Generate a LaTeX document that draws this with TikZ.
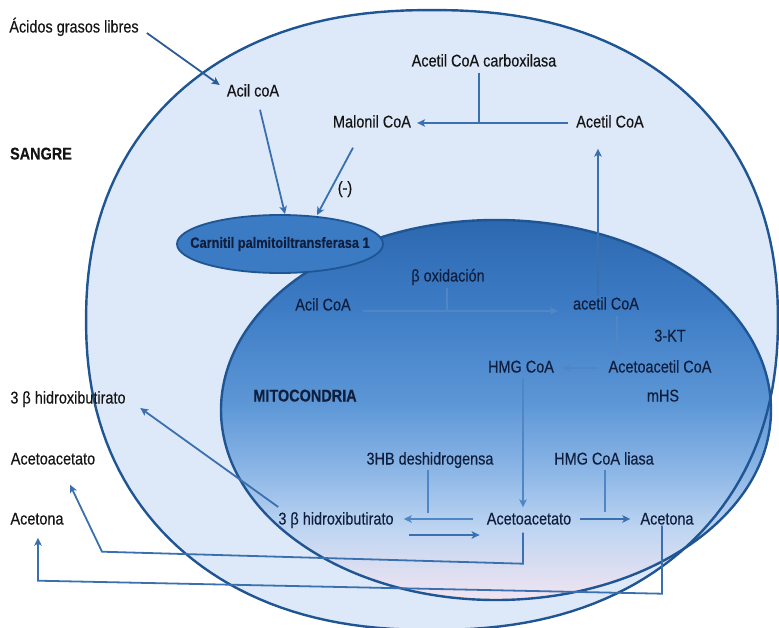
\documentclass[tikz,border=0pt]{standalone}
\usepackage{fontspec}
\setmainfont{Liberation Sans}[FakeStretch=0.85, FakeBold=0.3]
\usetikzlibrary{arrows.meta,calc,shapes.geometric}
\definecolor{cellfill}{HTML}{DDE9F8}
\definecolor{cellline}{HTML}{1F5593}
\definecolor{lineblue}{HTML}{3A70B0}
\definecolor{darkline}{HTML}{2C5C98}
\definecolor{innerline}{HTML}{4F86C6}
\definecolor{navy}{HTML}{0F1E3C}
\definecolor{cptfill}{HTML}{3B7BC4}
\definecolor{mA}{HTML}{F2E4F0}
\definecolor{mB}{HTML}{C0D6F2}
\definecolor{mC}{HTML}{8CB6E6}
\definecolor{mD}{HTML}{5C96D6}
\definecolor{mE}{HTML}{3C7BC4}
\definecolor{mF}{HTML}{2C68B0}
\pgfdeclareverticalshading{mitoshade}{100bp}{color(0bp)=(mA); color(25bp)=(mA); color(34bp)=(mB); color(42bp)=(mC); color(51bp)=(mD); color(64bp)=(mE); color(75bp)=(mF); color(100bp)=(mF)}
\begin{document}
\begin{tikzpicture}[x=1pt,y=-1pt,
  lab/.style={font=\fontsize{17}{19}\selectfont, text=black!92, inner sep=0pt, text height=12pt, text depth=3pt},
  mlab/.style={lab, text=navy},
  blab/.style={lab, font=\fontsize{17}{19}\selectfont\bfseries},
  conn/.style={draw=lineblue, line width=1.8pt, -{Stealth[length=8pt,width=7.5pt,inset=2pt]}},
  iconn/.style={conn, draw=innerline},
  tick/.style={draw=lineblue, line width=1.8pt},
  itick/.style={tick, draw=innerline}]
\useasboundingbox (0,0) rectangle (779,628);
\clip (0,0) rectangle (779,628);

% cell (blood side boundary)
\fill[cellfill] plot[domain=1:359, samples=180, variable=\t]
  ({432+346*cos(\t)/(abs(cos(\t))^0.12)}, {320+310*sin(\t)/(abs(sin(\t))^0.09)}) -- cycle;
% mitochondria
\shade[shading=mitoshade] (496,410) ellipse [x radius=275, y radius=190];
\draw[cellline, line width=2.4pt] (496,410) ellipse [x radius=275, y radius=190];
\draw[cellline, line width=2.4pt] plot[domain=1:359, samples=180, variable=\t]
  ({432+346*cos(\t)/(abs(cos(\t))^0.12)}, {320+310*sin(\t)/(abs(sin(\t))^0.09)}) -- cycle;

% CPT1
\node[ellipse, draw=cellline, fill=cptfill, line width=1.8pt, minimum width=206pt, minimum height=58pt, inner sep=0pt] (cpt) at (280,244) {};
\node[inner sep=0pt, text=navy, font=\fontsize{15}{17}\selectfont\bfseries] (cpttext) at (cpt.center) {Carnitil palmitoiltransferasa 1};

% labels outside mitochondria
\node[lab] (afl) at (74,28) {Ácidos grasos libres};
\node[lab] (acil1) at (253,92) {Acil coA};
\node[lab] (malonil) at (372,123) {Malonil CoA};
\node[lab] (acc) at (484,62) {Acetil CoA carboxilasa};
\node[lab] (acetil1) at (610,123) {Acetil CoA};
\node[blab] (sangre) at (41,155) {SANGRE};
\node[lab] (minus) at (345,189) {(-)};
\node[lab] (hbout) at (68,399) {3 β hidroxibutirato};
\node[lab] (aaout) at (53,460) {Acetoacetato};
\node[lab] (acout) at (37,520) {Acetona};

% labels inside mitochondria
\node[mlab] (box) at (448,277) {β oxidación};
\node[mlab] (acil2) at (323,306) {Acil CoA};
\node[mlab] (acetil2) at (606,305) {acetil CoA};
\node[mlab] (kt) at (670,337) {3-KT};
\node[mlab] (hmg) at (521,368) {HMG CoA};
\node[mlab] (acacoa) at (660,368) {Acetoacetil CoA};
\node[mlab] (mhs) at (663,397) {mHS};
\node[blab, text=navy] (mito) at (305,397) {MITOCONDRIA};
\node[mlab] (hbdh) at (430,460) {3HB deshidrogensa};
\node[mlab] (hmgl) at (604,460) {HMG CoA liasa};
\node[mlab] (hbin) at (336,520) {3 β hidroxibutirato};
\node[mlab] (aain) at (529,520) {Acetoacetato};
\node[mlab] (acin) at (667,520) {Acetona};

% connectors, blood / cytosol
\draw[conn, draw=darkline] ($(afl.east)+(8,5)$) -- ($(acil1.west)+(-7,-7)$);
\draw[conn] ($(acil1.south)+(7,10)$) -- ($(cpt.north)+(5,0)$);
\draw[conn] ($(malonil.south)+(-19,17)$) -- ($(cpt.north)+(37,1)$);
\draw[conn, shorten <=8pt, shorten >=6pt] (acetil1.west) -- (malonil.east);
\coordinate (acct) at ($(acc.south)+(-5,3)$);
\draw[tick] (acct) -- (acct |- acetil1.west);
\coordinate (atop) at ($(acetil2.north)+(-8,-2)$);
\draw[conn, shorten >=18pt] (atop) -- (atop |- acetil1.south);

% connectors inside mitochondria
\coordinate (bst) at ($(acil2.east)+(12,5)$);
\draw[iconn] (bst) -- ($(acetil2.west)+(-15,6)$);
\coordinate (boxt) at ($(box.south)+(-1,3)$);
\draw[itick] (boxt) -- (boxt |- bst);
\coordinate (kta) at ($(acetil2.south)+(11,3)$);
\draw[iconn, shorten >=3pt] (kta) -- (kta |- acacoa.north);
\draw[iconn, shorten <=11pt, shorten >=8pt] (acacoa.west) -- (hmg.east);
\coordinate (hmgs) at ($(hmg.south)+(2,3)$);
\draw[iconn, shorten >=5pt] (hmgs) -- (hmgs |- aain.north);
\draw[iconn] ($(aain.west)+(-14,-1)$) -- ($(hbin.east)+(10,-1)$);
\draw[conn, line width=2.2pt] ($(hbin.east)+(15,15)$) -- ($(aain.west)+(-7,15)$);
\coordinate (hbt) at ($(hbdh.south)+(-2,2)$);
\draw[itick] (hbt) -- ($(hbt |- aain.west)+(0,-7)$);
\draw[conn] ($(aain.east)+(9,-1)$) -- ($(acin.west)+(-10,-1)$);
\coordinate (hlt) at ($(hmgl.south)+(1,2)$);
\draw[itick] (hlt) -- ($(hlt |- aain.east)+(0,-8)$);

% ketone bodies leaving to blood
\coordinate (aas) at ($(aain.south)+(-6,5)$);
\draw[conn] (aas) -- ($(aas)+(0,31)$) -- ($(aaout.south)+(49,84)$) -- ($(aaout.south)+(17,17)$);
\coordinate (acs) at ($(acin.south)+(-5,-2)$);
\draw[conn] (acs) -- ($(acs)+(0,68)$) -- ($(acout.south)+(1,53)$) -- ($(acout.south)+(1,10)$);
\draw[conn] ($(hbin.west)+(0,-13)$) -- ($(hbout.east)+(14.5,9)$);
\end{tikzpicture}
\end{document}
